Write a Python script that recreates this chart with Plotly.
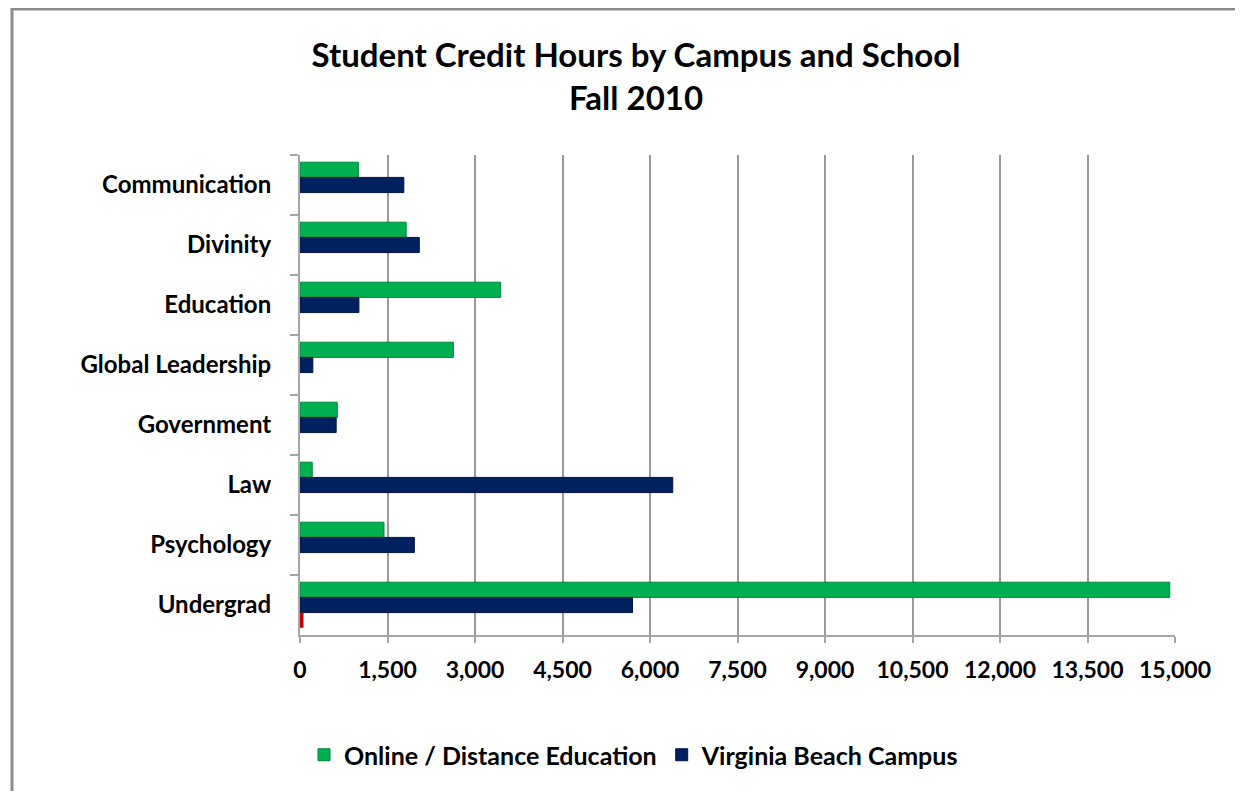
import plotly.graph_objects as go

# Data
schools = ['Communication', 'Divinity', 'Education', 'Global Leadership',
           'Government', 'Law', 'Psychology', 'Undergrad']
online = [1000, 1820, 3440, 2630, 640, 210, 1440, 14910]
virginia_beach = [1780, 2045, 1010, 220, 620, 6390, 1960, 5700]
other = [0, 0, 0, 0, 0, 0, 0, 60]
x_ticks = [0, 1500, 3000, 4500, 6000, 7500, 9000, 10500, 12000, 13500, 15000]

FONT = 'Lato, Open Sans, sans-serif'

# the page body adds 8px, so positions below are the reference's minus 8
OFF = 8
W, H = 1243 - 2 * OFF, 799 - 2 * OFF
L, R, T, B = 300 - OFF, 1175 - OFF, 155 - OFF, 635 - OFF
pw, ph = R - L, B - T

fig = go.Figure()
fig.add_trace(go.Bar(y=schools, x=online, orientation='h', name='Online / Distance Education',
                     marker=dict(color='#00B050', line=dict(color='#00873D', width=1))))
fig.add_trace(go.Bar(y=schools, x=virginia_beach, orientation='h', name='Virginia Beach Campus',
                     marker=dict(color='#002060', line=dict(color='#001540', width=1))))
fig.add_trace(go.Bar(y=schools, x=other, orientation='h', name='Other', showlegend=False,
                     marker=dict(color='#C00000', line=dict(width=0))))

fig.update_layout(
    width=W, height=H,
    margin=dict(l=L, r=W - R, t=T, b=H - B),
    paper_bgcolor='white', plot_bgcolor='white',
    barmode='group', bargap=0.24, bargroupgap=0,
    font=dict(family=FONT, color='black', weight='bold'),
    title=dict(text='Student Credit Hours by Campus and School<br>Fall 2010',
               x=(636 - OFF) / W, xanchor='center', y=1 - (67 - OFF) / H, yanchor='middle',
               font=dict(size=33, family=FONT, weight='bold')),
    legend=dict(orientation='h', x=(634 - L - OFF) / pw, xanchor='center',
                y=-(755 - OFF - B) / ph, yanchor='middle',
                font=dict(size=25, family=FONT, weight='bold'), itemwidth=30),
    xaxis=dict(range=[0, 15000], tickvals=x_ticks, tickformat=',',
               showgrid=True, gridcolor='#9A9A9A', gridwidth=2,
               showline=True, linecolor='#A6A6A6', linewidth=2,
               ticks='outside', ticklen=6, tickcolor='#A6A6A6', tickwidth=2,
               ticklabelstandoff=7, zeroline=False,
               tickfont=dict(size=23, family=FONT, weight='bold')),
    yaxis=dict(autorange='reversed', showline=True, linecolor='#A6A6A6', linewidth=2,
               ticks='outside', ticklen=8, tickcolor='#A6A6A6', tickwidth=2,
               tickson='boundaries', ticklabelstandoff=22,
               tickfont=dict(size=24, family=FONT, weight='bold')),
)

# chart frame (only top and left are visible in the picture)
fig.add_shape(type='rect', xref='paper', yref='paper',
              x0=(12 - OFF - L) / pw, x1=(W + 20 - L) / pw,
              y0=-(H + 20 - B) / ph, y1=(B - (8 - OFF) - 1) / ph,
              line=dict(color='#8C8C8C', width=3), layer='below')

fig.write_html('out.html')
